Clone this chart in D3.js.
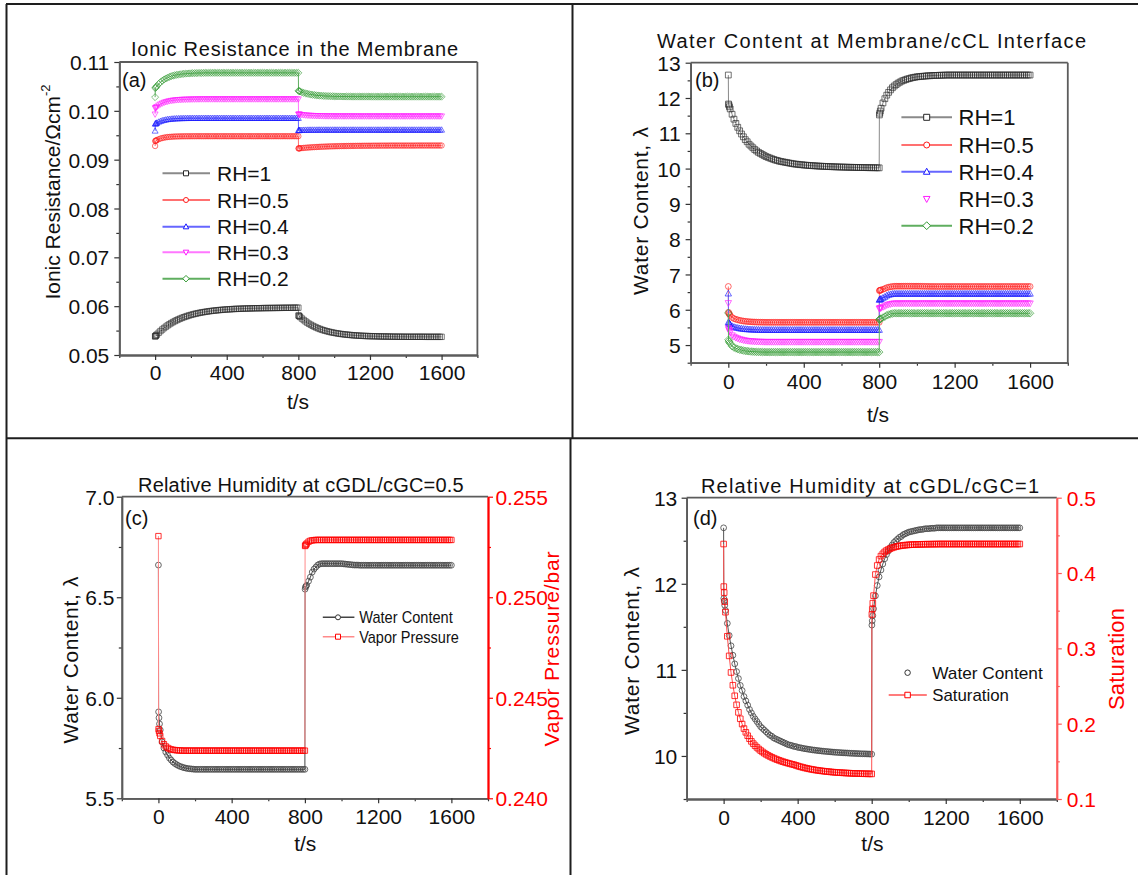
<!DOCTYPE html>
<html>
<head>
<meta charset="utf-8">
<script src="https://cdn.jsdelivr.net/npm/d3@7/dist/d3.min.js"></script>
<style>
html,body{margin:0;padding:0;background:#fff;}
svg{display:block;}
</style>
</head>
<body>
<script>
// Simulation output times (s): finer steps right after each humidity switch at 0 s and 800 s
const times = [
0,1,3,6,
10,20,30,40,50,60,70,80,90,100,
110,120,130,140,150,160,170,180,190,200,
210,220,230,240,250,260,270,280,290,300,
310,320,330,340,350,360,370,380,390,400,
410,420,430,440,450,460,470,480,490,500,
510,520,530,540,550,560,570,580,590,600,
610,620,630,640,650,660,670,680,690,700,
710,720,730,740,750,760,770,780,790,800,
801,803,806,
810,820,830,840,850,860,870,880,890,900,
910,920,930,940,950,960,970,980,990,1000,
1010,1020,1030,1040,1050,1060,1070,1080,1090,1100,
1110,1120,1130,1140,1150,1160,1170,1180,1190,1200,
1210,1220,1230,1240,1250,1260,1270,1280,1290,1300,
1310,1320,1330,1340,1350,1360,1370,1380,1390,1400,
1410,1420,1430,1440,1450,1460,1470,1480,1490,1500,
1510,1520,1530,1540,1550,1560,1570,1580,1590,1600];

// (a) ionic resistance in the membrane, Ohm cm^2
const resRH1 = [
0.0538,0.05384,0.05392,0.05404,
0.05419,0.05456,0.0549,0.05522,0.05552,0.0558,0.05606,0.0563,0.05653,0.05674,
0.05694,0.05712,0.05729,0.05745,0.0576,0.05774,0.05787,0.05799,0.05811,0.05821,
0.05831,0.05841,0.05849,0.05857,0.05865,0.05872,0.05878,0.05884,0.0589,0.05895,
0.059,0.05905,0.05909,0.05913,0.05917,0.05921,0.05924,0.05927,0.0593,0.05933,
0.05935,0.05937,0.0594,0.05942,0.05944,0.05945,0.05947,0.05948,0.0595,0.05951,
0.05952,0.05953,0.05954,0.05955,0.05956,0.05957,0.05958,0.05958,0.05959,0.0596,
0.05961,0.05961,0.05962,0.05962,0.05963,0.05963,0.05964,0.05964,0.05965,0.05965,
0.05966,0.05966,0.05967,0.05967,0.05967,0.05968,0.05968,0.05969,0.05969,0.05969,
0.0581,0.05803,0.05792,
0.05778,0.05746,0.05716,0.05688,0.05662,0.05639,0.05618,0.05598,0.0558,0.05563,
0.05547,0.05533,0.0552,0.05508,0.05497,0.05487,0.05478,0.05469,0.05461,0.05454,
0.05447,0.05441,0.05435,0.0543,0.05425,0.05421,0.05417,0.05413,0.0541,0.05406,
0.05403,0.05401,0.05398,0.05396,0.05394,0.05392,0.0539,0.05389,0.05387,0.05386,
0.05385,0.05384,0.05383,0.05382,0.05381,0.0538,0.05379,0.05379,0.05378,0.05378,
0.05377,0.05376,0.05376,0.05375,0.05375,0.05375,0.05374,0.05374,0.05374,0.05373,
0.05373,0.05373,0.05373,0.05373,0.05373,0.05373,0.05373,0.05373,0.05373,0.05373,
0.05372,0.05372,0.05372,0.05372,0.05372,0.05372,0.05372,0.05372,0.05372,0.05372];

const resRH05 = [
0.0928,0.0938,0.09387,0.09394,
0.09402,0.09419,0.09433,0.09443,0.09451,0.09458,0.09463,0.09466,0.09469,0.09472,
0.09474,0.09475,0.09476,0.09477,0.09478,0.09478,0.09479,0.09479,0.09479,0.09479,
0.0948,0.0948,0.0948,0.0948,0.0948,0.0948,0.0948,0.0948,0.0948,0.0948,
0.0948,0.0948,0.0948,0.0948,0.0948,0.0948,0.0948,0.0948,0.0948,0.0948,
0.0948,0.0948,0.0948,0.0948,0.0948,0.0948,0.0948,0.0948,0.0948,0.0948,
0.0948,0.0948,0.0948,0.0948,0.0948,0.0948,0.0948,0.0948,0.0948,0.0948,
0.0948,0.0948,0.0948,0.0948,0.0948,0.0948,0.0948,0.0948,0.0948,0.0948,
0.0948,0.0948,0.0948,0.0948,0.0948,0.0948,0.0948,0.0948,0.0948,0.0948,
0.0923,0.09231,0.09232,
0.09234,0.09237,0.09241,0.09244,0.09247,0.0925,0.09252,0.09255,0.09257,0.09259,
0.09261,0.09263,0.09265,0.09266,0.09268,0.09269,0.09271,0.09272,0.09273,0.09274,
0.09275,0.09276,0.09277,0.09278,0.09279,0.09279,0.0928,0.09281,0.09281,0.09282,
0.09282,0.09283,0.09283,0.09284,0.09284,0.09285,0.09285,0.09285,0.09286,0.09286,
0.09286,0.09287,0.09287,0.09287,0.09287,0.09288,0.09288,0.09288,0.09288,0.09288,
0.09289,0.09289,0.09289,0.09289,0.09289,0.09289,0.09289,0.09289,0.09289,0.09289,
0.09289,0.09289,0.09289,0.09289,0.09289,0.0929,0.0929,0.0929,0.0929,0.0929,
0.0929,0.0929,0.0929,0.0929,0.0929,0.0929,0.0929,0.0929,0.0929,0.0929];

const resRH04 = [
0.0959,0.09733,0.09738,0.09745,
0.09754,0.09773,0.09788,0.09801,0.0981,0.09818,0.09825,0.0983,0.09834,0.09837,
0.0984,0.09842,0.09843,0.09845,0.09846,0.09847,0.09848,0.09848,0.09849,0.09849,
0.09849,0.09849,0.09849,0.09849,0.09849,0.0985,0.0985,0.0985,0.0985,0.0985,
0.0985,0.0985,0.0985,0.0985,0.0985,0.0985,0.0985,0.0985,0.0985,0.0985,
0.0985,0.0985,0.0985,0.0985,0.0985,0.0985,0.0985,0.0985,0.0985,0.0985,
0.0985,0.0985,0.0985,0.0985,0.0985,0.0985,0.0985,0.0985,0.0985,0.0985,
0.0985,0.0985,0.0985,0.0985,0.0985,0.0985,0.0985,0.0985,0.0985,0.0985,
0.0985,0.0985,0.0985,0.0985,0.0985,0.0985,0.0985,0.0985,0.0985,0.0985,
0.096,0.09601,0.09602,
0.09603,0.09605,0.09606,0.09607,0.09608,0.09609,0.09609,0.09609,0.09609,0.09609,
0.0961,0.0961,0.0961,0.0961,0.0961,0.0961,0.0961,0.0961,0.0961,0.0961,
0.0961,0.0961,0.0961,0.0961,0.0961,0.0961,0.0961,0.0961,0.0961,0.0961,
0.0961,0.0961,0.0961,0.0961,0.0961,0.0961,0.0961,0.0961,0.0961,0.0961,
0.0961,0.0961,0.0961,0.0961,0.0961,0.0961,0.0961,0.0961,0.0961,0.0961,
0.0961,0.0961,0.0961,0.0961,0.0961,0.0961,0.0961,0.0961,0.0961,0.0961,
0.0961,0.0961,0.0961,0.0961,0.0961,0.0961,0.0961,0.0961,0.0961,0.0961,
0.0961,0.0961,0.0961,0.0961,0.0961,0.0961,0.0961,0.0961,0.0961,0.0961];

const resRH03 = [
0.0993,0.10054,0.10061,0.10071,
0.10084,0.10113,0.10136,0.10155,0.1017,0.10183,0.10193,0.10202,0.10209,0.10214,
0.10219,0.10223,0.10226,0.10228,0.10231,0.10232,0.10234,0.10235,0.10236,0.10237,
0.10238,0.10238,0.10239,0.10239,0.1024,0.1024,0.1024,0.1024,0.1024,0.1024,
0.1024,0.1024,0.1024,0.1024,0.1024,0.1024,0.1024,0.1024,0.1024,0.1024,
0.1024,0.1024,0.1024,0.1024,0.1024,0.1024,0.1024,0.1024,0.1024,0.1024,
0.1024,0.1024,0.1024,0.1024,0.1024,0.1024,0.1024,0.1024,0.1024,0.1024,
0.1024,0.1024,0.1024,0.1024,0.1024,0.1024,0.1024,0.1024,0.1024,0.1024,
0.1024,0.1024,0.1024,0.1024,0.1024,0.1024,0.1024,0.1024,0.1024,0.1024,
0.0993,0.09929,0.09927,
0.09926,0.09919,0.09915,0.09911,0.09908,0.09905,0.09903,0.09901,0.09899,0.09898,
0.09897,0.09896,0.09895,0.09894,0.09893,0.09893,0.09892,0.09892,0.09892,0.09891,
0.09891,0.09891,0.09891,0.09891,0.09891,0.09891,0.09891,0.09891,0.09891,0.09891,
0.0989,0.0989,0.0989,0.0989,0.0989,0.0989,0.0989,0.0989,0.0989,0.0989,
0.0989,0.0989,0.0989,0.0989,0.0989,0.0989,0.0989,0.0989,0.0989,0.0989,
0.0989,0.0989,0.0989,0.0989,0.0989,0.0989,0.0989,0.0989,0.0989,0.0989,
0.0989,0.0989,0.0989,0.0989,0.0989,0.0989,0.0989,0.0989,0.0989,0.0989,
0.0989,0.0989,0.0989,0.0989,0.0989,0.0989,0.0989,0.0989,0.0989,0.0989];

const resRH02 = [
0.1028,0.10465,0.10476,0.1049,
0.10509,0.10551,0.10586,0.10616,0.10641,0.10662,0.1068,0.10696,0.10709,0.1072,
0.10729,0.10737,0.10743,0.10749,0.10754,0.10758,0.10761,0.10764,0.10767,0.10769,
0.1077,0.10772,0.10773,0.10774,0.10775,0.10776,0.10776,0.10777,0.10777,0.10778,
0.10778,0.10778,0.10778,0.10778,0.10778,0.10778,0.10778,0.10778,0.10778,0.10778,
0.10778,0.10778,0.10778,0.10778,0.10778,0.10778,0.10778,0.10778,0.10778,0.10778,
0.10778,0.10778,0.10778,0.10778,0.10778,0.10778,0.10778,0.10778,0.10778,0.10778,
0.10778,0.10778,0.10778,0.10778,0.10778,0.10778,0.10778,0.10778,0.10778,0.10778,
0.10778,0.10778,0.10778,0.10778,0.10778,0.10778,0.10778,0.10778,0.10778,0.10778,
0.1041,0.10407,0.10402,
0.10396,0.10381,0.10369,0.10359,0.1035,0.10342,0.10335,0.10329,0.10324,0.10319,
0.10315,0.10312,0.10309,0.10306,0.10304,0.10302,0.10301,0.10299,0.10298,0.10297,
0.10296,0.10295,0.10295,0.10294,0.10293,0.10293,0.10292,0.10292,0.10292,0.10291,
0.10291,0.10291,0.10291,0.10291,0.10291,0.10291,0.10291,0.10291,0.10291,0.10291,
0.1029,0.1029,0.1029,0.1029,0.1029,0.1029,0.1029,0.1029,0.1029,0.1029,
0.1029,0.1029,0.1029,0.1029,0.1029,0.1029,0.1029,0.1029,0.1029,0.1029,
0.1029,0.1029,0.1029,0.1029,0.1029,0.1029,0.1029,0.1029,0.1029,0.1029,
0.1029,0.1029,0.1029,0.1029,0.1029,0.1029,0.1029,0.1029,0.1029,0.1029];

// (b) water content at the membrane/cCL interface, lambda
const wcRH1 = [
12.65,11.83,11.8,11.75,
11.69,11.54,11.4,11.28,11.17,11.07,10.98,10.9,10.82,10.76,
10.69,10.64,10.59,10.54,10.5,10.46,10.43,10.4,10.37,10.34,
10.32,10.3,10.28,10.26,10.24,10.23,10.21,10.2,10.19,10.18,
10.17,10.16,10.15,10.14,10.13,10.125,10.12,10.11,10.11,10.1,
10.097,10.093,10.088,10.084,10.081,10.077,10.074,10.07,10.068,10.065,
10.062,10.06,10.057,10.055,10.053,10.051,10.049,10.047,10.045,10.043,
10.042,10.04,10.039,10.037,10.036,10.035,10.034,10.032,10.031,10.03,
10.029,10.028,10.027,10.026,10.025,10.025,10.024,10.023,10.022,10.021,
11.52,11.57,11.63,
11.71,11.86,11.98,12.08,12.16,12.23,12.29,12.34,12.38,12.42,
12.45,12.48,12.5,12.52,12.54,12.55,12.57,12.58,12.59,12.6,
12.605,12.61,12.615,12.62,12.625,12.63,12.63,12.635,12.64,12.64,
12.64,12.645,12.645,12.645,12.65,12.65,12.65,12.65,12.65,12.65,
12.65,12.65,12.65,12.65,12.65,12.65,12.65,12.65,12.65,12.65,
12.65,12.65,12.65,12.65,12.65,12.65,12.65,12.65,12.65,12.65,
12.65,12.65,12.65,12.65,12.65,12.65,12.65,12.65,12.65,12.65,
12.65,12.65,12.65,12.65,12.65,12.65,12.65,12.65,12.65,12.65];

const wcRH05 = [
6.66,5.93,5.9,5.87,
5.84,5.78,5.75,5.73,5.715,5.7,5.69,5.68,5.673,5.667,
5.662,5.658,5.655,5.652,5.65,5.648,5.647,5.646,5.645,5.644,
5.644,5.644,5.644,5.644,5.644,5.644,5.644,5.644,5.644,5.644,
5.644,5.644,5.644,5.644,5.644,5.644,5.644,5.644,5.644,5.644,
5.644,5.644,5.644,5.644,5.644,5.644,5.644,5.644,5.644,5.644,
5.644,5.644,5.644,5.644,5.644,5.644,5.644,5.644,5.644,5.644,
5.644,5.644,5.644,5.644,5.644,5.644,5.644,5.644,5.644,5.644,
5.644,5.644,5.644,5.644,5.644,5.644,5.644,5.644,5.644,5.644,
6.54,6.55,6.555,
6.56,6.58,6.6,6.625,6.64,6.65,6.66,6.665,6.667,6.667,
6.667,6.667,6.667,6.667,6.667,6.667,6.667,6.667,6.667,6.667,
6.666,6.665,6.664,6.663,6.662,6.661,6.66,6.66,6.66,6.659,
6.659,6.659,6.659,6.659,6.659,6.659,6.659,6.659,6.659,6.659,
6.659,6.659,6.659,6.659,6.659,6.659,6.659,6.659,6.659,6.659,
6.659,6.659,6.659,6.659,6.659,6.659,6.659,6.659,6.659,6.659,
6.659,6.659,6.659,6.659,6.659,6.659,6.659,6.659,6.659,6.659,
6.659,6.659,6.659,6.659,6.659,6.659,6.659,6.659,6.659,6.659];

const wcRH04 = [
6.46,5.65,5.627,5.604,
5.581,5.535,5.512,5.496,5.485,5.473,5.465,5.458,5.452,5.448,
5.444,5.441,5.438,5.436,5.435,5.433,5.432,5.432,5.431,5.43,
5.43,5.43,5.43,5.43,5.43,5.43,5.43,5.43,5.43,5.43,
5.43,5.43,5.43,5.43,5.43,5.43,5.43,5.43,5.43,5.43,
5.43,5.43,5.43,5.43,5.43,5.43,5.43,5.43,5.43,5.43,
5.43,5.43,5.43,5.43,5.43,5.43,5.43,5.43,5.43,5.43,
5.43,5.43,5.43,5.43,5.43,5.43,5.43,5.43,5.43,5.43,
5.43,5.43,5.43,5.43,5.43,5.43,5.43,5.43,5.43,5.43,
6.28,6.294,6.302,
6.309,6.338,6.366,6.402,6.424,6.438,6.45,6.455,6.455,6.455,
6.455,6.455,6.455,6.455,6.455,6.455,6.455,6.455,6.455,6.455,
6.455,6.455,6.455,6.455,6.455,6.455,6.455,6.455,6.455,6.455,
6.455,6.455,6.455,6.455,6.455,6.455,6.455,6.455,6.455,6.455,
6.455,6.455,6.455,6.455,6.455,6.455,6.455,6.455,6.455,6.455,
6.455,6.455,6.455,6.455,6.455,6.455,6.455,6.455,6.455,6.455,
6.455,6.455,6.455,6.455,6.455,6.455,6.455,6.455,6.455,6.455,
6.455,6.455,6.455,6.455,6.455,6.455,6.455,6.455,6.455,6.455];

const wcRH03 = [
6.19,5.48,5.439,5.398,
5.357,5.276,5.235,5.207,5.187,5.166,5.153,5.139,5.129,5.121,
5.115,5.109,5.105,5.101,5.098,5.095,5.094,5.093,5.091,5.09,
5.09,5.09,5.09,5.09,5.09,5.09,5.09,5.09,5.09,5.09,
5.09,5.09,5.09,5.09,5.09,5.09,5.09,5.09,5.09,5.09,
5.09,5.09,5.09,5.09,5.09,5.09,5.09,5.09,5.09,5.09,
5.09,5.09,5.09,5.09,5.09,5.09,5.09,5.09,5.09,5.09,
5.09,5.09,5.09,5.09,5.09,5.09,5.09,5.09,5.09,5.09,
5.09,5.09,5.09,5.09,5.09,5.09,5.09,5.09,5.09,5.09,
6.03,6.042,6.048,
6.054,6.078,6.102,6.132,6.15,6.162,6.174,6.18,6.18,6.18,
6.18,6.18,6.18,6.18,6.18,6.18,6.18,6.18,6.18,6.18,
6.18,6.18,6.18,6.18,6.18,6.18,6.18,6.18,6.18,6.18,
6.18,6.18,6.18,6.18,6.18,6.18,6.18,6.18,6.18,6.18,
6.18,6.18,6.18,6.18,6.18,6.18,6.18,6.18,6.18,6.18,
6.18,6.18,6.18,6.18,6.18,6.18,6.18,6.18,6.18,6.18,
6.18,6.18,6.18,6.18,6.18,6.18,6.18,6.18,6.18,6.18,
6.18,6.18,6.18,6.18,6.18,6.18,6.18,6.18,6.18,6.18];

const wcRH02 = [
5.91,5.15,5.113,5.077,
5.04,4.967,4.93,4.905,4.887,4.869,4.856,4.844,4.835,4.828,
4.822,4.817,4.813,4.81,4.807,4.805,4.804,4.802,4.801,4.8,
4.8,4.8,4.8,4.8,4.8,4.8,4.8,4.8,4.8,4.8,
4.8,4.8,4.8,4.8,4.8,4.8,4.8,4.8,4.8,4.8,
4.8,4.8,4.8,4.8,4.8,4.8,4.8,4.8,4.8,4.8,
4.8,4.8,4.8,4.8,4.8,4.8,4.8,4.8,4.8,4.8,
4.8,4.8,4.8,4.8,4.8,4.8,4.8,4.8,4.8,4.8,
4.8,4.8,4.8,4.8,4.8,4.8,4.8,4.8,4.8,4.8,
5.72,5.734,5.742,
5.749,5.778,5.806,5.842,5.864,5.878,5.893,5.9,5.9,5.9,
5.9,5.9,5.9,5.9,5.9,5.9,5.9,5.9,5.9,5.9,
5.9,5.9,5.9,5.9,5.9,5.9,5.9,5.9,5.9,5.9,
5.9,5.9,5.9,5.9,5.9,5.9,5.9,5.9,5.9,5.9,
5.9,5.9,5.9,5.9,5.9,5.9,5.9,5.9,5.9,5.9,
5.9,5.9,5.9,5.9,5.9,5.9,5.9,5.9,5.9,5.9,
5.9,5.9,5.9,5.9,5.9,5.9,5.9,5.9,5.9,5.9,
5.9,5.9,5.9,5.9,5.9,5.9,5.9,5.9,5.9,5.9];

// (c) vapour pressure at cGDL/cGC, bar
const vaporP = [
0.25304,0.24344,0.24335,0.24323,
0.2431,0.24285,0.24269,0.24258,0.24251,0.24246,0.24243,0.24241,0.2424,0.24239,
0.24238,0.24238,0.24237,0.24237,0.24237,0.24237,0.24237,0.24237,0.24237,0.24237,
0.24237,0.24237,0.24237,0.24237,0.24237,0.24237,0.24237,0.24237,0.24237,0.24237,
0.24237,0.24237,0.24237,0.24237,0.24237,0.24237,0.24237,0.24237,0.24237,0.24237,
0.24237,0.24237,0.24237,0.24237,0.24237,0.24237,0.24237,0.24237,0.24237,0.24237,
0.24237,0.24237,0.24237,0.24237,0.24237,0.24237,0.24237,0.24237,0.24237,0.24237,
0.24237,0.24237,0.24237,0.24237,0.24237,0.24237,0.24237,0.24237,0.24237,0.24237,
0.24237,0.24237,0.24237,0.24237,0.24237,0.24237,0.24237,0.24237,0.24237,0.24237,
0.25255,0.25258,0.25262,
0.25267,0.25276,0.25281,0.25283,0.25284,0.25285,0.25285,0.25285,0.25285,0.25285,
0.25285,0.25285,0.25285,0.25285,0.25285,0.25285,0.25285,0.25285,0.25285,0.25285,
0.25285,0.25285,0.25285,0.25285,0.25285,0.25285,0.25285,0.25285,0.25285,0.25285,
0.25285,0.25285,0.25285,0.25285,0.25285,0.25285,0.25285,0.25285,0.25285,0.25285,
0.25285,0.25285,0.25285,0.25285,0.25285,0.25285,0.25285,0.25285,0.25285,0.25285,
0.25285,0.25285,0.25285,0.25285,0.25285,0.25285,0.25285,0.25285,0.25285,0.25285,
0.25285,0.25285,0.25285,0.25285,0.25285,0.25285,0.25285,0.25285,0.25285,0.25285,
0.25285,0.25285,0.25285,0.25285,0.25285,0.25285,0.25285,0.25285,0.25285,0.25285];

// (d) liquid saturation at cGDL/cGC
const saturation = [
0.4385,0.382,0.374,0.362,
0.348,0.316,0.29,0.268,0.251,0.237,0.225,0.215,0.2065,0.1995,
0.1935,0.1885,0.184,0.18,0.1765,0.1735,0.1708,0.1685,0.1663,0.1643,
0.1625,0.1608,0.1593,0.1579,0.1566,0.1554,0.1543,0.1532,0.1522,0.1513,
0.1504,0.1496,0.1488,0.1481,0.1474,0.1467,0.1461,0.1455,0.1447,0.1439,
0.1431,0.1425,0.1418,0.1412,0.1407,0.1401,0.1396,0.1392,0.1387,0.1383,
0.138,0.1376,0.1373,0.137,0.1367,0.1364,0.1362,0.1359,0.1357,0.1355,
0.1353,0.1351,0.135,0.1348,0.1347,0.1345,0.1344,0.1343,0.1341,0.134,
0.1339,0.1339,0.1338,0.1337,0.1336,0.1335,0.1335,0.1334,0.1334,0.1333,
0.345,0.352,0.36,
0.37,0.398,0.41,0.418,0.4225,0.4255,0.428,0.4298,0.4312,0.4324,
0.4334,0.4342,0.4349,0.4355,0.436,0.4364,0.4367,0.437,0.4372,0.4374,
0.4376,0.4377,0.4378,0.4379,0.438,0.4381,0.4381,0.4382,0.4382,0.4383,
0.4383,0.4383,0.4384,0.4384,0.4384,0.4385,0.4385,0.4385,0.4385,0.4385,
0.4385,0.4385,0.4385,0.4385,0.4385,0.4385,0.4385,0.4385,0.4385,0.4385,
0.4385,0.4385,0.4385,0.4385,0.4385,0.4385,0.4385,0.4385,0.4385,0.4385,
0.4385,0.4385,0.4385,0.4385,0.4385,0.4385,0.4385,0.4385,0.4385,0.4385,
0.4385,0.4385,0.4385,0.4385,0.4385,0.4385,0.4385,0.4385,0.4385,0.4385];

const rhLabels = ["RH=1", "RH=0.5", "RH=0.4", "RH=0.3", "RH=0.2"];
const xMajorTicks = [0, 400, 800, 1200, 1600];
const xMinorTicks = [-200, 200, 600, 1000, 1400, 1800];

const FONT = "'Liberation Sans', Arial, Helvetica, sans-serif";
const AXIS = "#5c5c5c";
const INK = "#111";

const svg = d3.select("body").append("svg")
  .attr("width", 1138).attr("height", 875)
  .style("font-family", FONT);

// outer frame and the four panel dividers
const frame = svg.append("g").attr("stroke", "#1e1e1e").attr("stroke-width", 2).attr("fill", "none");
frame.append("line").attr("x1", 6.5).attr("x2", 6.5).attr("y1", 4).attr("y2", 875);
frame.append("line").attr("x1", 6).attr("x2", 1138).attr("y1", 4).attr("y2", 4);
frame.append("line").attr("x1", 572.5).attr("x2", 572.5).attr("y1", 4).attr("y2", 438);
frame.append("line").attr("x1", 570.5).attr("x2", 570.5).attr("y1", 438).attr("y2", 875);
frame.append("line").attr("x1", 6).attr("x2", 1138).attr("y1", 438.3).attr("y2", 438.3);

function markerPath(shape, s) {
  const h = s / 2;
  switch (shape) {
    case "square": return `M${-h},${-h}h${s}v${s}h${-s}Z`;
    case "circle": return `M${h},0A${h},${h} 0 1,1 ${-h},0A${h},${h} 0 1,1 ${h},0Z`;
    case "up": return `M0,${-h * 1.15}L${h * 1.1},${h * 0.85}L${-h * 1.1},${h * 0.85}Z`;
    case "down": return `M0,${h * 1.15}L${h * 1.1},${-h * 0.85}L${-h * 1.1},${-h * 0.85}Z`;
    case "diamond": return `M0,${-h * 1.3}L${h * 1.3},0L0,${h * 1.3}L${-h * 1.3},0Z`;
  }
}

function styleAxis(sel, lineColor, tickColor) {
  sel.select(".domain").attr("stroke", lineColor).attr("stroke-width", 1.8);
  sel.selectAll(".tick line").attr("stroke", tickColor).attr("stroke-width", 1.2);
}

function yAxis(g, scale, side, xPos, spec, lineColor, tickColor, textColor) {
  const gen = side === "left" ? d3.axisLeft : d3.axisRight;
  const minor = g.append("g").attr("transform", `translate(${xPos},0)`)
    .call(gen(scale).tickValues(spec.minor).tickSize(3).tickFormat("").tickSizeOuter(0));
  const major = g.append("g").attr("transform", `translate(${xPos},0)`)
    .call(gen(scale).tickValues(spec.major).tickSize(5).tickPadding(spec.pad)
      .tickFormat(d3.format(spec.fmt)).tickSizeOuter(0));
  styleAxis(minor, lineColor, tickColor);
  styleAxis(major, lineColor, tickColor);
  major.selectAll(".tick text").attr("font-size", 21).attr("font-family", FONT)
    .attr("fill", textColor).attr("dy", "0.36em");
}

function drawPanel(cfg) {
  const g = svg.append("g");
  const x = d3.scaleLinear().domain([-200, 1800]).range([cfg.x0, cfg.x1]);
  const yL = d3.scaleLinear().domain(cfg.left.domain).range([cfg.y1, cfg.y0]);
  const yR = cfg.right ? d3.scaleLinear().domain(cfg.right.domain).range([cfg.y1, cfg.y0]) : null;

  // data: connecting line first, hollow markers on top
  cfg.series.forEach(s => {
    const y = s.axis === "right" ? yR : yL;
    const pts = times.map((t, i) => [x(t), y(s.values[i])]);
    if (s.line) {
      g.append("path").attr("d", d3.line()(pts)).attr("fill", "none")
        .attr("stroke", s.line).attr("stroke-width", 1);
    }
    g.append("g").selectAll("path").data(pts).join("path")
      .attr("transform", d => `translate(${d[0]},${d[1]})`)
      .attr("d", markerPath(s.shape, s.size))
      .attr("fill", "none").attr("stroke", s.color).attr("stroke-width", cfg.markerStroke);
  });

  // frame top (and right when no second axis)
  g.append("line").attr("x1", cfg.x0).attr("x2", cfg.x1).attr("y1", cfg.y0).attr("y2", cfg.y0)
    .attr("stroke", AXIS).attr("stroke-width", 1.8);
  if (!cfg.right) {
    g.append("line").attr("x1", cfg.x1).attr("x2", cfg.x1).attr("y1", cfg.y0).attr("y2", cfg.y1)
      .attr("stroke", AXIS).attr("stroke-width", 1.8);
  }

  // bottom axis
  const bMinor = g.append("g").attr("transform", `translate(0,${cfg.y1})`)
    .call(d3.axisBottom(x).tickValues(xMinorTicks).tickSize(3).tickFormat("").tickSizeOuter(0));
  const bMajor = g.append("g").attr("transform", `translate(0,${cfg.y1})`)
    .call(d3.axisBottom(x).tickValues(xMajorTicks).tickSize(5).tickPadding(cfg.xPad)
      .tickFormat(d3.format("d")).tickSizeOuter(0));
  styleAxis(bMinor, AXIS, "#333");
  styleAxis(bMajor, AXIS, "#333");
  bMajor.selectAll(".tick text").attr("font-size", 21).attr("font-family", FONT).attr("fill", INK);

  yAxis(g, yL, "left", cfg.x0, cfg.left, AXIS, "#333", INK);
  if (cfg.right) yAxis(g, yR, "right", cfg.x1, cfg.right, cfg.right.color, cfg.right.color, "#ff0000");

  // titles and labels
  g.append("text").attr("x", cfg.title.x).attr("y", cfg.title.y)
    .attr("text-anchor", "middle").attr("font-size", 20).attr("fill", INK)
    .attr("textLength", cfg.title.len).attr("lengthAdjust", "spacing")
    .text(cfg.title.text);
  g.append("text").attr("x", cfg.letter.x).attr("y", cfg.letter.y)
    .attr("font-size", 20).attr("fill", INK).text(cfg.letter.text);
  g.append("text").attr("x", cfg.xlabel.x).attr("y", cfg.xlabel.y)
    .attr("text-anchor", "middle").attr("font-size", 21).attr("fill", INK).text("t/s");

  cfg.ylabels.forEach(lb => {
    const t = g.append("text")
      .attr("transform", `translate(${lb.x},${lb.y}) rotate(-90)`)
      .attr("text-anchor", "middle").attr("font-size", lb.size).attr("fill", lb.color);
    if (lb.len) t.attr("textLength", lb.len).attr("lengthAdjust", "spacing");
    t.append("tspan").text(lb.text);
    if (lb.sup) t.append("tspan").attr("font-size", 13).attr("dy", -10).text(lb.sup);
  });

  // legend
  const L = cfg.legend;
  L.items.forEach((it, i) => {
    const yy = L.rows[i];
    if (it.line) {
      g.append("line").attr("x1", L.lx0).attr("x2", L.lx1).attr("y1", yy).attr("y2", yy)
        .attr("stroke", it.line).attr("stroke-width", L.lw);
    }
    g.append("path").attr("transform", `translate(${L.mx},${yy})`)
      .attr("d", markerPath(it.shape, L.ms)).attr("fill", "#fff")
      .attr("stroke", it.color).attr("stroke-width", 1);
    const t = g.append("text").attr("x", L.tx).attr("y", yy).attr("dy", "0.36em")
      .attr("font-size", L.fs).attr("fill", INK).text(it.label);
    if (it.len) t.attr("textLength", it.len).attr("lengthAdjust", "spacingAndGlyphs");
  });
}

const RH_STYLE = [
  { color: "#262626", line: "#8a8a8a", shape: "square" },
  { color: "#ff1a1a", line: "#ff7070", shape: "circle" },
  { color: "#1a1aff", line: "#6666ff", shape: "up" },
  { color: "#ff1aff", line: "#ff77ff", shape: "down" },
  { color: "#329a32", line: "#5fae5f", shape: "diamond" }
];

// (a) ionic resistance
const resSeries = [resRH1, resRH05, resRH04, resRH03, resRH02];
drawPanel({
  x0: 119.3, x1: 477.4, y0: 62, y1: 355, xPad: 5, markerStroke: 0.6,
  left: { domain: [0.05, 0.11], major: [0.05, 0.06, 0.07, 0.08, 0.09, 0.10, 0.11],
          minor: [0.055, 0.065, 0.075, 0.085, 0.095, 0.105], fmt: ".2f", pad: 5 },
  title: { text: "Ionic Resistance in the Membrane", x: 294.5, y: 56, len: 327 },
  letter: { text: "(a)", x: 122, y: 87 },
  xlabel: { x: 298, y: 409 },
  ylabels: [{ text: "Ionic Resistance/Ωcm", sup: "-2", x: 60, y: 192, size: 21, color: INK }],
  series: resSeries.map((v, i) => ({ values: v, axis: "left", size: 5.4, ...RH_STYLE[i] })),
  legend: { lx0: 162.5, lx1: 210, mx: 186, tx: 217, lw: 2, ms: 5, fs: 21,
            rows: [173.3, 200, 226.7, 252.3, 278.7],
            items: rhLabels.map((lab, i) => ({ label: lab, ...RH_STYLE[i] })) }
});

// (b) water content at membrane/cCL interface
const wcSeries = [wcRH1, wcRH05, wcRH04, wcRH03, wcRH02];
const RH_STYLE_B = RH_STYLE.map((s, i) => i === 3 ? { ...s, line: null } : s);
drawPanel({
  x0: 690.6, x1: 1067.8, y0: 62.7, y1: 362.7, xPad: 6.3, markerStroke: 0.65,
  left: { domain: [4.5, 13], major: [5, 6, 7, 8, 9, 10, 11, 12, 13],
          minor: [4.5, 5.5, 6.5, 7.5, 8.5, 9.5, 10.5, 11.5, 12.5], fmt: "d", pad: 5 },
  title: { text: "Water Content at Membrane/cCL Interface", x: 871.5, y: 47.7, len: 429 },
  letter: { text: "(b)", x: 695, y: 87 },
  xlabel: { x: 878, y: 422 },
  ylabels: [{ text: "Water Content, λ", x: 648, y: 211, size: 21, color: INK, len: 168 }],
  series: wcSeries.map((v, i) => ({ values: v, axis: "left", size: 5.8, ...RH_STYLE_B[i] })),
  legend: { lx0: 901.4, lx1: 952, mx: 926.7, tx: 958.6, lw: 2, ms: 6, fs: 22,
            rows: [117.3, 145, 171.7, 199, 225.7],
            items: rhLabels.map((lab, i) => ({ label: lab, ...RH_STYLE_B[i] })) }
});

// (c) water content and vapour pressure, RH = 0.5
drawPanel({
  x0: 121.8, x1: 488, y0: 496.7, y1: 798.3, xPad: 6, markerStroke: 0.8,
  left: { domain: [5.5, 7.0], major: [5.5, 6.0, 6.5, 7.0], minor: [5.75, 6.25, 6.75], fmt: ".1f", pad: 2.3 },
  right: { domain: [0.240, 0.255], major: [0.240, 0.245, 0.250, 0.255],
           minor: [0.2425, 0.2475, 0.2525], fmt: ".3f", pad: 2.4, color: "#ff0000" },
  title: { text: "Relative Humidity at cGDL/cGC=0.5", x: 300.8, y: 491.7, len: 325.5 },
  letter: { text: "(c)", x: 125, y: 525 },
  xlabel: { x: 305.3, y: 851 },
  ylabels: [
    { text: "Water Content, λ", x: 78, y: 660, size: 21, color: INK, len: 167 },
    { text: "Vapor Pressure/bar", x: 558.5, y: 649, size: 21, color: "#ff0000", len: 195 }
  ],
  series: [
    { values: wcRH05, axis: "left", color: "#444", line: "#444", shape: "circle", size: 5.8 },
    { values: vaporP, axis: "right", color: "#ff0000", line: "#ff8a8a", shape: "square", size: 5.4 }
  ],
  legend: { lx0: 322.8, lx1: 354.4, mx: 338, tx: 359.2, lw: 1.5, ms: 5, fs: 17,
            rows: [617.3, 636.7],
            items: [
              { label: "Water Content", color: "#333", line: "#444", shape: "circle", len: 93.6 },
              { label: "Vapor Pressure", color: "#ff0000", line: "#ff8a8a", shape: "square", len: 99.6 }
            ] }
});

// (d) water content and saturation, RH = 1
drawPanel({
  x0: 686.6, x1: 1056.8, y0: 497.7, y1: 799, xPad: 6, markerStroke: 0.8,
  left: { domain: [9.5, 13], major: [10, 11, 12, 13], minor: [9.5, 10.5, 11.5, 12.5], fmt: "d", pad: 4.3 },
  right: { domain: [0.1, 0.5], major: [0.1, 0.2, 0.3, 0.4, 0.5],
           minor: [0.15, 0.25, 0.35, 0.45], fmt: ".1f", pad: 5, color: "#ff5a5a" },
  title: { text: "Relative Humidity at cGDL/cGC=1", x: 870, y: 493.3, len: 338 },
  letter: { text: "(d)", x: 693, y: 525 },
  xlabel: { x: 872.4, y: 851 },
  ylabels: [
    { text: "Water Content, λ", x: 638.8, y: 651, size: 21, color: INK, len: 168 },
    { text: "Saturation", x: 1124, y: 659, size: 22, color: "#ff0000", len: 102 }
  ],
  series: [
    { values: wcRH1, axis: "left", color: "#444", line: "#555", shape: "circle", size: 5.8 },
    { values: saturation, axis: "right", color: "#ff0000", line: "#ff5050", shape: "square", size: 5.6 }
  ],
  legend: { lx0: 888.7, lx1: 926.8, mx: 907.6, tx: 932.2, lw: 1.5, ms: 5.5, fs: 17,
            rows: [672.7, 695],
            items: [
              { label: "Water Content", color: "#333", line: null, shape: "circle", len: 110.5 },
              { label: "Saturation", color: "#ff0000", line: "#ff5050", shape: "square", len: 76.8 }
            ] }
});
</script>
</body>
</html>
